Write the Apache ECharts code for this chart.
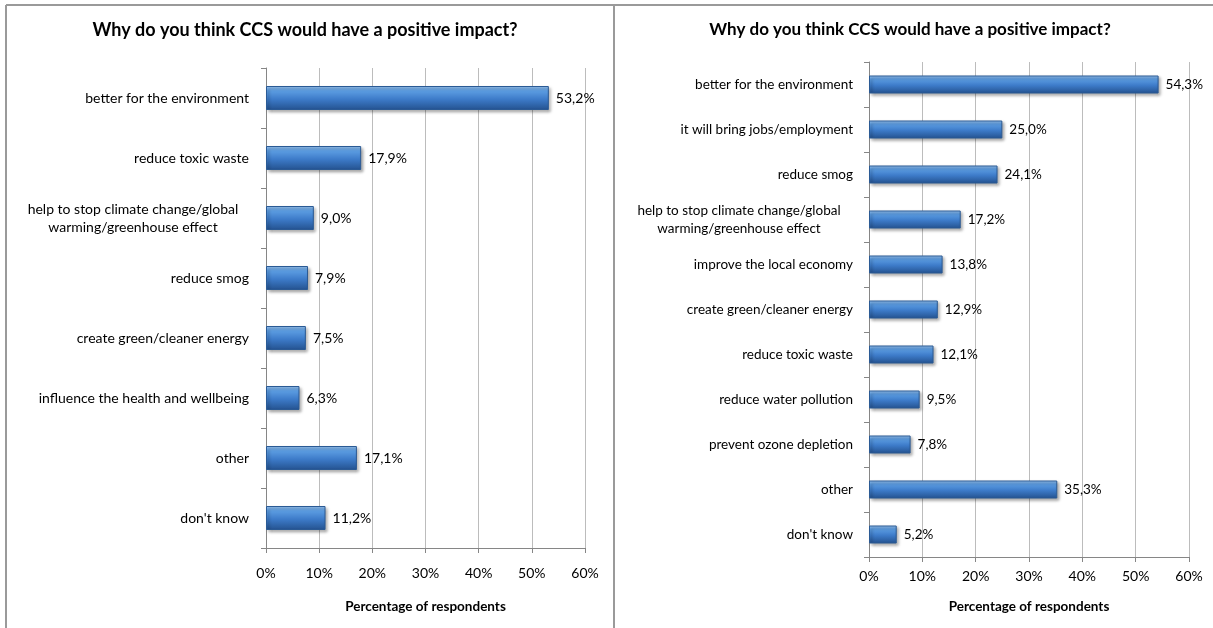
<!DOCTYPE html>
<html>
<head>
<meta charset="utf-8">
<script src="https://cdn.jsdelivr.net/npm/echarts@6/dist/echarts.min.js"></script>
<style>
html,body{margin:0;padding:0;background:#fff;}
#chart{width:1213px;height:628px;}
</style>
</head>
<body>
<div id="chart"></div>
<script>
const chartTitle = 'Why do you think CCS would have a positive impact?';
const axisTitle = 'Percentage of respondents';
const xTicks = [0, 10, 20, 30, 40, 50, 60];

const leftCategories = [
  'better for the environment',
  'reduce toxic waste',
  'help to stop climate change/global\nwarming/greenhouse effect',
  'reduce smog',
  'create green/cleaner energy',
  'influence the health and wellbeing',
  'other',
  "don't know"
];
const leftValues = [53.2, 17.9, 9.0, 7.9, 7.5, 6.3, 17.1, 11.2];

const rightCategories = [
  'better for the environment',
  'it will bring jobs/employment',
  'reduce smog',
  'help to stop climate change/global\nwarming/greenhouse effect',
  'improve the local economy',
  'create green/cleaner energy',
  'reduce toxic waste',
  'reduce water pollution',
  'prevent ozone depletion',
  'other',
  "don't know"
];
const rightValues = [54.3, 25.0, 24.1, 17.2, 13.8, 12.9, 12.1, 9.5, 7.8, 35.3, 5.2];

const FONT = 'Lato, "Open Sans", sans-serif';

const barStyle = {
  color: {
    type: 'linear', x: 0, y: 0, x2: 0, y2: 1,
    colorStops: [
      {offset: 0, color: '#9cc6f2'},
      {offset: 0.2, color: '#5c9de2'},
      {offset: 0.55, color: '#3d7bc9'},
      {offset: 1, color: '#24528f'}
    ]
  },
  borderColor: '#2b5a94',
  borderWidth: 1,
  shadowColor: 'rgba(0,0,0,0.35)',
  shadowBlur: 3,
  shadowOffsetX: 2,
  shadowOffsetY: 2
};

function labelFormatter(width) {
  return function (v) {
    if (v.indexOf('\n') >= 0) {
      return v.split('\n').map(s => '{c|' + s + '}').join('\n');
    }
    return v;
  };
}

function yAxis(gridIndex, cats, width, fontSize, margin) {
  return {
    type: 'category', gridIndex: gridIndex, data: cats, inverse: true,
    axisLine: {show: true, lineStyle: {color: '#868686', width: 1}},
    axisTick: {show: true, length: 5, lineStyle: {color: '#868686'}},
    axisLabel: {
      color: '#000', fontFamily: FONT, fontSize: fontSize, margin: margin,
      formatter: labelFormatter(width),
      rich: {c: {width: width, align: 'center', fontFamily: FONT, fontSize: fontSize, color: '#000', lineHeight: fontSize + 4}}
    },
    splitLine: {show: false}
  };
}

function xAxis(gridIndex, margin, nameGap) {
  return {
    type: 'value', gridIndex: gridIndex, min: 0, max: 60, interval: 10,
    name: axisTitle, nameLocation: 'middle', nameGap: nameGap,
    nameTextStyle: {fontFamily: FONT, fontWeight: 'bold', fontSize: 13.5, color: '#000'},
    axisLine: {show: true, lineStyle: {color: '#868686', width: 1}},
    axisTick: {show: true, length: 5, lineStyle: {color: '#868686'}},
    axisLabel: {color: '#000', fontFamily: FONT, fontSize: 14, margin: margin,
      formatter: v => v + '%'},
    splitLine: {show: true, lineStyle: {color: '#bcbcbc', width: 1}}
  };
}

function fmt(p) { return p.value.toFixed(1).replace('.', ',') + '%'; }

const option = {
  animation: false,
  backgroundColor: '#ffffff',
  grid: [
    {left: 266, top: 68, width: 319, height: 480},
    {left: 869, top: 62, width: 320, height: 495}
  ],
  xAxis: [xAxis(0, 18, 52), xAxis(1, 12, 43)],
  yAxis: [yAxis(0, leftCategories, 232, 14, 17), yAxis(1, rightCategories, 228, 13.5, 16)],
  series: [
    {type: 'bar', xAxisIndex: 0, yAxisIndex: 0, data: leftValues, barWidth: 24,
     itemStyle: barStyle,
     label: {show: true, position: 'right', distance: 7, formatter: fmt,
       fontFamily: FONT, fontSize: 14, color: '#000'}},
    {type: 'bar', xAxisIndex: 1, yAxisIndex: 1, data: rightValues, barWidth: 18,
     itemStyle: barStyle,
     label: {show: true, position: 'right', distance: 7, formatter: fmt,
       fontFamily: FONT, fontSize: 13.5, color: '#000'}}
  ],
  graphic: [
    {type: 'line', shape: {x1: 6, y1: 5, x2: 1213, y2: 5}, style: {stroke: '#9a9a9a', lineWidth: 2}},
    {type: 'line', shape: {x1: 6, y1: 5, x2: 6, y2: 628}, style: {stroke: '#9a9a9a', lineWidth: 2}},
    {type: 'line', shape: {x1: 614, y1: 5, x2: 614, y2: 628}, style: {stroke: '#9a9a9a', lineWidth: 2}},
    {type: 'text', x: 305, y: 30, style: {text: chartTitle, font: 'bold 18px ' + FONT, fill: '#000', textAlign: 'center', textVerticalAlign: 'middle'}},
    {type: 'text', x: 910, y: 30, style: {text: chartTitle, font: 'bold 17px ' + FONT, fill: '#000', textAlign: 'center', textVerticalAlign: 'middle'}}
  ]
};

const chart = echarts.init(document.getElementById('chart'), null, {renderer: 'canvas'});
chart.setOption(option);
</script>
</body>
</html>
